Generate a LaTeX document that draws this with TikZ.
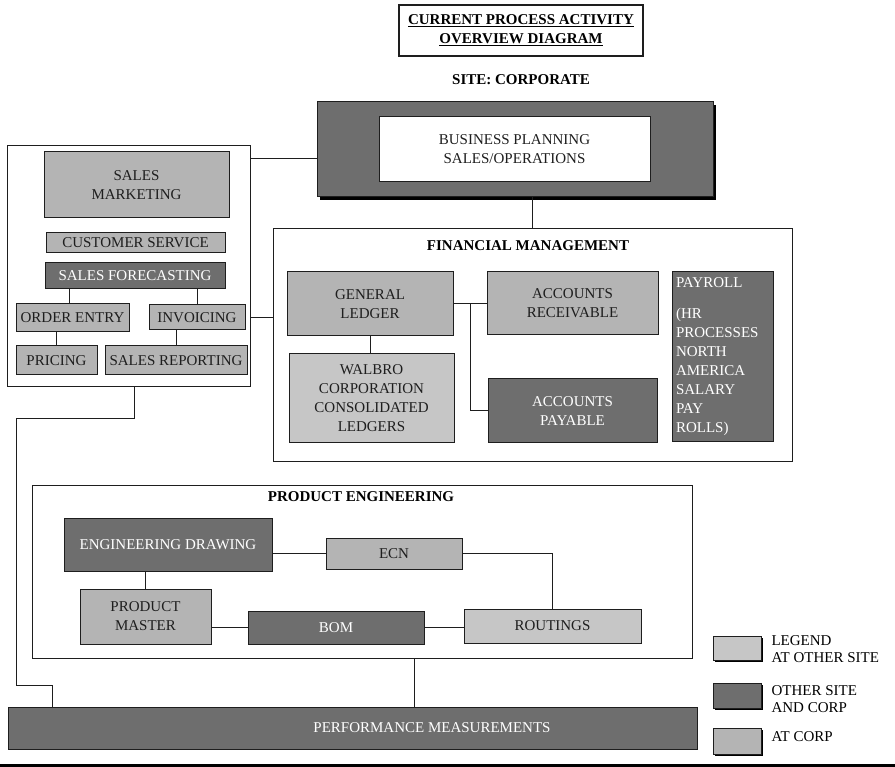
\documentclass[tikz,border=0pt]{standalone}
\usepackage{fontspec}
\setmainfont{Liberation Serif}
\usetikzlibrary{calc,shadows}
\definecolor{bothgray}{HTML}{6E6E6E}
\definecolor{corpgray}{HTML}{B4B4B4}
\definecolor{sitegray}{HTML}{C6C6C6}
\definecolor{inkgray}{HTML}{1E1E1E}
\newcommand{\chartfont}{\fontsize{15}{19}\selectfont}
\tikzset{
  box/.style={draw=inkgray, line width=1pt, inner sep=2pt, align=center, text=inkgray},
  atcorp/.style={box, fill=corpgray},
  atsite/.style={box, fill=sitegray},
  atboth/.style={box, fill=bothgray, text=white},
  group/.style={draw=inkgray, line width=1pt, fill=white},
  heading/.style={font=\chartfont\bfseries, text=black, align=center},
  link/.style={draw=inkgray, line width=1pt},
  shade/.style={drop shadow={shadow xshift=#1, shadow yshift=-#1, fill=black, opacity=1}},
}
\begin{document}
\begin{tikzpicture}[x=1pt, y=-1pt, font=\chartfont]
\useasboundingbox (0,0) rectangle (895,767);
\node[box, heading, line width=1.3pt, minimum width=244, minimum height=51] (title) at (521,30.5) {\underline{CURRENT PROCESS ACTIVITY}\\\underline{OVERVIEW DIAGRAM}};
\node[heading] (site) at (521,80) {SITE: CORPORATE};
\node[atboth, shade=3pt, minimum width=396, minimum height=95] (plan) at (515,149.5) {};
\node[box, fill=white, minimum width=271, minimum height=65] (planin) at (514.5,149.5) {BUSINESS PLANNING\\SALES/OPERATIONS};
\node[group, minimum width=243, minimum height=241] (salesgrp) at (128.5,266.5) {};
\node[atcorp, minimum width=185, minimum height=66] (mkt) at (136.5,185) {SALES\\MARKETING};
\node[atcorp, minimum width=179, minimum height=20, inner sep=0pt] (cust) at (135.5,243) {CUSTOMER SERVICE};
\node[atboth, minimum width=180, minimum height=26] (fcst) at (135,276) {SALES FORECASTING};
\node[atcorp, minimum width=113, minimum height=28, inner sep=0pt] (order) at (72.5,318) {ORDER ENTRY};
\node[atcorp, minimum width=96, minimum height=25, inner sep=0pt] (inv) at (197,317.5) {INVOICING};
\node[atcorp, minimum width=81, minimum height=29] (price) at (56.5,360.5) {PRICING};
\node[atcorp, minimum width=142, minimum height=29, inner sep=0pt] (srep) at (176,360.5) {SALES REPORTING};
\draw[link] (fcst.south -| 69,0) -- (order.north -| 69,0);
\draw[link] (inv.north) -- (inv.north |- fcst.south);
\draw[link] (price.north) -- (price.north |- order.south);
\draw[link] (srep.north) -- (srep.north |- inv.south);
\node[group, minimum width=519, minimum height=232] (fin) at (532.5,345) {};
\node[heading] (fintitle) at (528,246) {FINANCIAL MANAGEMENT};
\node[atcorp, minimum width=166, minimum height=64] (gl) at (370,304) {GENERAL\\LEDGER};
\node[atsite, minimum width=165, minimum height=89] (walbro) at (371.5,398.5) {WALBRO\\CORPORATION\\CONSOLIDATED\\LEDGERS};
\node[atcorp, minimum width=171, minimum height=63] (ar) at (572.5,303.5) {ACCOUNTS\\RECEIVABLE};
\node[atboth, minimum width=169, minimum height=64] (ap) at (572.5,411) {ACCOUNTS\\PAYABLE};
\node[atboth, minimum width=101, minimum height=170, text width=93, align=left] (pay) at (722.5,357) {PAYROLL\\[12pt](HR\\PROCESSES\\NORTH\\AMERICA\\SALARY\\PAY\\ROLLS)};
\draw[link] (gl.south) -- (gl.south |- walbro.north);
\draw[link] (gl.east) -- (ar.west |- gl.east);
\draw[link] ($(gl.east)!.5!(ar.west |- gl.east)$) |- (ap.west);
\node[group, minimum width=660, minimum height=173] (eng) at (362,571.5) {};
\node[heading] (engtitle) at (361,497) {PRODUCT ENGINEERING};
\node[atboth, minimum width=208, minimum height=53] (draw) at (168,544.5) {ENGINEERING DRAWING};
\node[atcorp, minimum width=136, minimum height=31] (ecn) at (394,553.5) {ECN};
\node[atcorp, minimum width=131, minimum height=55] (master) at (145.5,616.5) {PRODUCT\\MASTER};
\node[atboth, minimum width=176, minimum height=33] (bom) at (336,627.5) {BOM};
\node[atsite, minimum width=177, minimum height=34] (route) at (552.5,626) {ROUTINGS};
\draw[link] (ecn.west) -- (ecn.west -| draw.east);
\draw[link] (ecn.east) -| (route.north);
\draw[link] (master.north) -- (master.north |- draw.south);
\draw[link] (bom.west) -- (bom.west -| master.east);
\draw[link] (bom.east) -- (route.west |- bom.east);
\node[atboth, minimum width=689, minimum height=42] (perf) at (352.5,728) {};
\node[text=white] (perftext) at (432,728) {PERFORMANCE MEASUREMENTS};
\draw[link] (salesgrp.east |- 0,159) -- (plan.west |- 0,159);
\draw[link] (plan.south -| fin.north) -- (fin.north);
\draw[link] (salesgrp.east |- order) -- (fin.west |- order);
\coordinate (bend1) at (134,419);
\coordinate (bend2) at (16,685);
\draw[link] (salesgrp.south -| bend1) -- (bend1) -| (bend2) -| (perf.north -| 52,0);
\draw[link] (eng.south -| 414,0) -- (perf.north -| 414,0);
\node[atsite, shade=1.5pt, minimum width=48, minimum height=24] (keysite) at (737,648) {};
\node[anchor=west, align=left, text=black, font=\fontsize{15}{17}\selectfont] (keysitetext) at (768,649.5) {LEGEND\\AT OTHER SITE};
\node[atboth, shade=1.5pt, minimum width=48, minimum height=25] (keyboth) at (737,695.5) {};
\node[anchor=west, align=left, text=black, font=\fontsize{15}{17}\selectfont] (keybothtext) at (768,699) {OTHER SITE\\AND CORP};
\node[atcorp, shade=1.5pt, minimum width=48, minimum height=26] (keycorp) at (737,741) {};
\node[anchor=west, text=black] (keycorptext) at (768,736.5) {AT CORP};
\draw[line width=3.5pt] (0,765.5) -- (895,765.5);
\end{tikzpicture}
\end{document}
